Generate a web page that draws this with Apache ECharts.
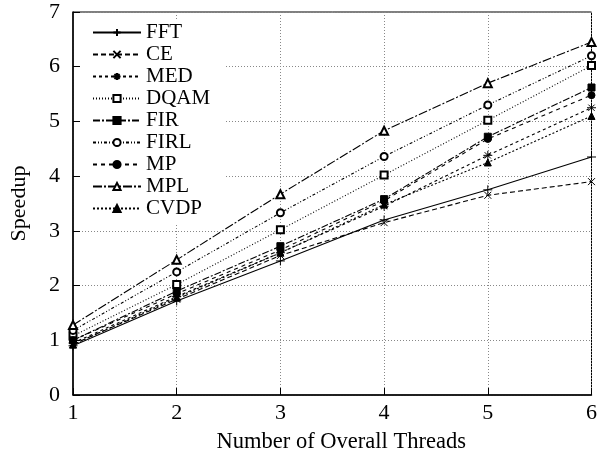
<!DOCTYPE html>
<html>
<head>
<meta charset="utf-8">
<script src="https://cdn.jsdelivr.net/npm/echarts@6/dist/echarts.min.js"></script>
<style>html,body{margin:0;padding:0;background:#fff;}#c{width:600px;height:459px;}</style>
</head>
<body>
<div id="c"></div>
<script>
const threads = [1, 2, 3, 4, 5, 6];
const seriesNames = ['FFT', 'CE', 'MED', 'DQAM', 'FIR', 'FIRL', 'MP', 'MPL', 'CVDP'];
const FFT  = [0.90, 1.72, 2.45, 3.20, 3.75, 4.35];
const CE   = [0.93, 1.75, 2.55, 3.15, 3.65, 3.90];
const MED  = [0.95, 1.80, 2.60, 3.45, 4.38, 5.25];
const DQAM = [1.08, 2.02, 3.02, 4.02, 5.02, 6.02];
const FIR  = [1.00, 1.90, 2.72, 3.58, 4.72, 5.62];
const FIRL = [1.18, 2.25, 3.33, 4.36, 5.30, 6.20];
const MP   = [1.00, 1.85, 2.65, 3.55, 4.68, 5.48];
const MPL  = [1.28, 2.47, 3.67, 4.83, 5.70, 6.45];
const CVDP = [0.92, 1.78, 2.60, 3.48, 4.25, 5.10];
const yTicks = [0, 1, 2, 3, 4, 5, 6, 7];

const values = [FFT, CE, MED, DQAM, FIR, FIRL, MP, MPL, CVDP];
const styles = [
  {symbol: 'path://M0,5L10,5M5,0L5,10', dash: 'solid', size: 9},
  {symbol: 'path://M0,0L10,10M10,0L0,10', dash: [5, 3], size: 7},
  {symbol: 'path://M0,5L10,5M5,0L5,10M1.5,1.5L8.5,8.5M8.5,1.5L1.5,8.5', dash: [3, 3], size: 9},
  {symbol: 'emptyRect', dash: [1, 2], size: 7},
  {symbol: 'rect', dash: [7, 2, 2, 2], size: 7},
  {symbol: 'emptyCircle', dash: [3, 2, 1, 2, 1, 2], size: 7},
  {symbol: 'circle', dash: [4, 4], size: 7},
  {symbol: 'emptyTriangle', dash: [9, 2, 2, 2], size: 8},
  {symbol: 'triangle', dash: [2, 2], size: 7}
];
const font = 'Liberation Serif';

const series = seriesNames.map((n, i) => ({
  name: n,
  type: 'line',
  data: threads.map((t, j) => [t, values[i][j]]),
  symbol: styles[i].symbol,
  symbolSize: styles[i].size,
  showAllSymbol: true,
  clip: false,
  lineStyle: {color: '#000', width: 1.1, type: styles[i].dash},
  itemStyle: {color: '#000', borderColor: '#000', borderWidth: 1},
  emphasis: {disabled: true},
  animation: false
}));

const chart = echarts.init(document.getElementById('c'), null, {renderer: 'canvas'});
chart.setOption({
  backgroundColor: '#fff',
  animation: false,
  textStyle: {fontFamily: font, color: '#000'},
  grid: {left: 72, right: 6, top: 12, bottom: 61, show: true, borderColor: '#000', borderWidth: 1, backgroundColor: 'transparent'},
  legend: {
    orient: 'vertical',
    left: 82, top: 19,
    padding: [3, 14, 4, 10],
    backgroundColor: '#fff',
    itemWidth: 48, itemHeight: 9, itemGap: 1,
    textStyle: {fontFamily: font, fontSize: 21, color: '#000', lineHeight: 21},
    data: seriesNames,
    selectedMode: false
  },
  xAxis: {
    type: 'value', min: 1, max: 6, interval: 1,
    name: 'Number of Overall Threads', nameLocation: 'middle', nameGap: 36,
    nameTextStyle: {fontFamily: font, fontSize: 22.5, color: '#000', padding: [0, 0, 0, 18]},
    axisLine: {lineStyle: {color: '#000', width: 1.5}},
    axisTick: {inside: true, length: 7, lineStyle: {color: '#000'}},
    axisLabel: {fontFamily: font, fontSize: 22, color: '#000', margin: 7},
    splitLine: {show: true, lineStyle: {color: '#888', type: [1, 2], width: 1}}
  },
  yAxis: {
    type: 'value', min: yTicks[0], max: yTicks[yTicks.length - 1], interval: 1,
    name: 'Speedup', nameLocation: 'middle', nameGap: 43,
    nameTextStyle: {fontFamily: font, fontSize: 22, color: '#000'},
    axisLine: {lineStyle: {color: '#000', width: 1.5}},
    axisTick: {inside: true, length: 7, lineStyle: {color: '#000'}},
    axisLabel: {fontFamily: font, fontSize: 22, color: '#000', margin: 13},
    splitLine: {show: true, lineStyle: {color: '#888', type: [1, 2], width: 1}}
  },
  series: series
});
</script>
</body>
</html>
